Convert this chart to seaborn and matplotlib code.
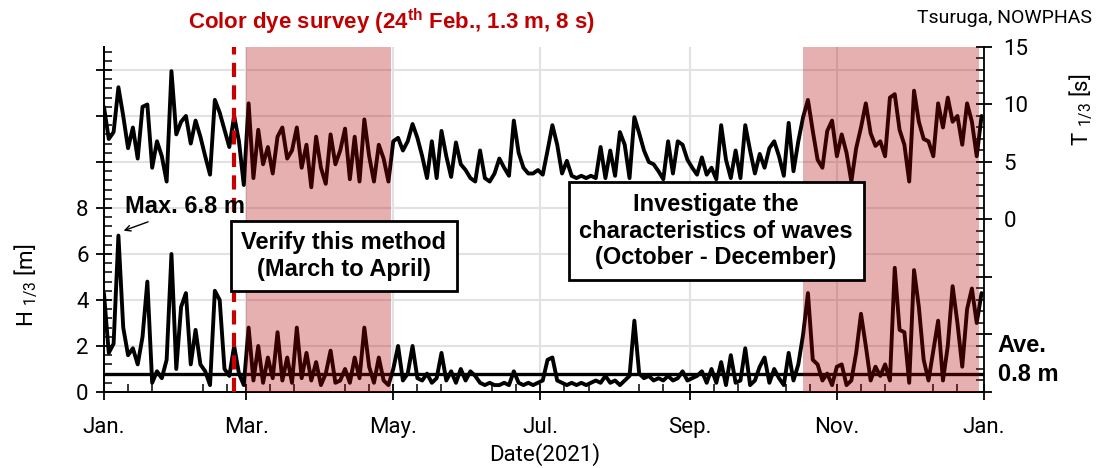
import numpy as np
import pandas as pd
import matplotlib
matplotlib.use('Agg')
import matplotlib.pyplot as plt
import matplotlib.dates as mdates
from matplotlib.ticker import AutoMinorLocator, FixedLocator
import seaborn as sns

# Significant wave height H1/3 [m], read every 2 days from 1 Jan 2021
h_vals = [
    4.3, 1.7, 2.1, 6.8, 2.8, 1.6, 1.9, 1.2, 2.4, 4.8,
    0.4, 0.9, 0.6, 1.4, 6.0, 1.0, 3.7, 4.3, 1.2, 2.7,
    1.2, 0.9, 0.3, 4.4, 4.0, 1.0, 0.7, 2.0, 0.8, 0.3,
    2.8, 0.5, 2.0, 0.4, 1.5, 0.6, 2.6, 0.5, 1.5, 0.4,
    2.8, 0.6, 1.7, 0.5, 1.3, 0.3, 0.8, 1.8, 0.4, 0.5,
    1.0, 0.4, 1.5, 0.6, 2.8, 1.1, 0.4, 1.5, 0.5, 0.3,
    1.0, 2.0, 0.5, 0.8, 2.0, 0.6, 0.5, 0.8, 0.4, 0.6,
    1.7, 0.5, 0.9, 0.4, 1.0, 0.5, 0.9, 0.7, 0.4, 0.3,
    0.4, 0.3, 0.3, 0.4, 0.3, 0.9, 0.4, 0.3, 0.4, 0.3,
    0.4, 0.5, 1.4, 1.5, 0.5, 0.4, 0.3, 0.4, 0.3, 0.4,
    0.3, 0.4, 0.5, 0.4, 0.7, 0.4, 0.5, 0.3, 0.5, 0.7,
    3.1, 0.8, 0.6, 0.7, 0.5, 0.6, 0.5, 0.7, 0.5, 0.6,
    0.9, 0.5, 0.6, 0.7, 0.9, 0.4, 1.0, 0.4, 1.3, 0.3,
    1.6, 0.4, 0.5, 1.9, 0.3, 0.5, 1.1, 1.5, 0.4, 1.0,
    0.6, 0.3, 1.7, 0.5, 1.2, 2.5, 4.3, 1.4, 1.2, 0.5,
    0.8, 0.3, 1.1, 1.2, 0.3, 0.5, 1.7, 3.4, 2.0, 0.5,
    1.1, 0.7, 1.2, 0.5, 5.4, 2.7, 2.6, 0.4, 5.3, 3.7,
    1.4, 0.5, 1.8, 3.1, 0.5, 2.0, 4.6, 3.0, 1.1, 3.6,
    4.5, 3.0, 4.3,
]

# Significant wave period T1/3 [s], same dates
t_vals = [
    9.8, 7.0, 7.6, 11.5, 9.0, 6.2, 8.0, 5.3, 9.8, 10.0,
    4.5, 6.8, 5.5, 3.3, 12.9, 7.4, 8.5, 9.0, 6.6, 8.6,
    7.2, 5.5, 3.9, 10.4, 9.3, 7.8, 6.3, 9.0, 6.8, 3.0,
    10.1, 3.6, 7.8, 4.8, 6.3, 4.0, 7.2, 8.0, 5.3, 6.0,
    8.0, 4.5, 6.5, 2.8, 7.2, 4.5, 3.1, 7.4, 4.8, 6.0,
    7.9, 3.5, 7.2, 3.3, 8.7, 5.5, 3.3, 6.5, 5.3, 3.3,
    6.8, 7.1, 6.0, 6.8, 8.3, 7.1, 5.5, 3.6, 6.8, 3.6,
    7.7, 5.5, 3.7, 6.7, 4.8, 4.3, 3.6, 3.3, 6.0, 3.6,
    3.3, 4.0, 5.3, 4.5, 3.8, 8.6, 5.8, 4.5, 4.0, 4.0,
    4.3, 3.9, 6.0, 8.2, 6.5, 4.0, 5.1, 3.8, 3.6, 3.8,
    3.6, 3.8, 3.6, 6.3, 3.6, 6.0, 3.8, 7.6, 6.5, 3.6,
    8.9, 7.5, 6.0, 5.0, 4.8, 4.2, 3.5, 6.8, 4.0, 6.8,
    6.5, 5.2, 4.5, 3.9, 5.4, 3.9, 4.5, 3.5, 8.2, 5.2,
    3.6, 6.0, 3.6, 8.2, 6.0, 4.0, 5.7, 4.5, 6.2, 6.8,
    5.5, 3.8, 8.4, 4.2, 6.8, 8.9, 10.4, 7.7, 5.2, 4.5,
    7.7, 8.6, 5.5, 7.4, 5.8, 3.3, 6.2, 8.0, 10.1, 7.5,
    6.4, 6.8, 5.5, 10.6, 10.9, 7.8, 6.5, 3.3, 11.2, 8.5,
    7.0, 6.8, 5.5, 10.1, 8.0, 10.6, 8.5, 9.0, 6.5, 10.1,
    8.5, 5.5, 9.0,
]

h_mean = 0.8
survey_date = '2021-02-24'
periods = [('2021-03-01', '2021-04-30'), ('2021-10-18', '2021-12-30')]
month_labels = ['Jan.', 'Mar.', 'May.', 'Jul.', 'Sep.', 'Nov.', 'Jan.']
month_ticks = ['2021-01-01', '2021-03-01', '2021-05-01', '2021-07-01',
               '2021-09-01', '2021-11-01', '2022-01-01']

dates = pd.date_range('2021-01-01', periods=len(h_vals), freq='2D')
df = pd.DataFrame({'date': dates, 'H': h_vals, 'T': t_vals})

sns.set_style('ticks')
plt.rcParams['font.family'] = ['Roboto', 'DejaVu Sans']
plt.rcParams['text.color'] = 'black'
plt.rcParams['axes.labelcolor'] = 'black'
plt.rcParams['xtick.color'] = 'black'
plt.rcParams['ytick.color'] = 'black'
plt.rcParams['axes.edgecolor'] = 'black'
plt.rcParams['mathtext.fontset'] = 'custom'
plt.rcParams['mathtext.rm'] = 'Roboto'
plt.rcParams['mathtext.bf'] = 'Liberation Sans:bold'

fig = plt.figure(figsize=(11, 4.68), dpi=100)
ax = fig.add_axes([0.0945, 0.1624, 0.80, 0.7372])
ax2 = ax.twinx()

# wave height on the left axis, period on the right one
sns.lineplot(data=df, x='date', y='H', ax=ax, color='black', lw=2.8, zorder=3)
sns.lineplot(data=df, x='date', y='T', ax=ax2, color='black', lw=2.8, zorder=3)
ax.axhline(h_mean, color='black', lw=2.4, zorder=4)

# survey date and study periods
ax2.axvline(pd.Timestamp(survey_date), color='#C80000', lw=3, dashes=(3.4, 2.0), zorder=6)
for start, end in periods:
    ax2.axvspan(pd.Timestamp(start), pd.Timestamp(end), color='#B40000', alpha=0.31, lw=0, zorder=5)

ax.set_xlim(pd.Timestamp('2021-01-01'), pd.Timestamp('2022-01-01'))
ax.set_ylim(0, 15)
ax2.set_ylim(-15, 15)

ax.xaxis.set_major_locator(FixedLocator(mdates.date2num(pd.to_datetime(month_ticks))))
ax.set_xticklabels(month_labels)
ax.xaxis.set_minor_locator(mdates.DayLocator(bymonthday=[11, 21]))

ax.set_yticks(np.arange(0, 15, 2))
ax.set_yticklabels(['0', '2', '4', '6', '8', '', '', ''])
ax.yaxis.set_minor_locator(AutoMinorLocator(5))
ax2.set_yticks(np.arange(-15, 16, 5))
ax2.set_yticklabels(['', '', '', '0', '5', '10', '15'])
ax2.yaxis.set_minor_locator(AutoMinorLocator(5))

ax.grid(True, which='major', color='#e2e2e2', lw=1.5)
ax.set_xlabel('')
ax.set_ylabel('')
ax2.set_ylabel('')

for a in (ax, ax2):
    a.spines['top'].set_visible(False)
    for s in a.spines.values():
        s.set_linewidth(1.3)
    a.tick_params(which='major', direction='inout', length=12, width=1.3, labelsize=16, colors='black')
    a.tick_params(which='minor', direction='in', length=6, width=1.1)
ax.spines['right'].set_visible(False)
ax.tick_params(axis='x', pad=12)
ax.tick_params(axis='y', pad=5)
ax2.tick_params(axis='y', pad=8)

# texts
fig.text(0.356, 0.953, r'Color dye survey (24$^{\mathbf{th}}$ Feb., 1.3 m, 8 s)', color='#C00000',
         fontsize=16, fontweight='bold', family='Liberation Sans', ha='center', va='center')
fig.text(0.993, 0.962, 'Tsuruga, NOWPHAS', fontsize=14, ha='right', va='center')
fig.text(0.495, 0.028, 'Date(2021)', fontsize=16, ha='center', va='center')
fig.text(0.024, 0.39, r'H $_{\mathrm{1/3}}$ [m]', fontsize=16, rotation=90, ha='center', va='center')
fig.text(0.983, 0.765, r'T $_{\mathrm{1/3}}$ [s]', fontsize=16, rotation=90, ha='center', va='center')

bold = dict(family='Liberation Sans', fontweight='bold', fontsize=17)
fig.text(0.1136, 0.558, 'Max. 6.8 m', ha='left', va='center', **bold)
ax.annotate('', xy=(0.110, 0.505), xytext=(0.137, 0.528), xycoords='figure fraction',
            textcoords='figure fraction', arrowprops=dict(arrowstyle='->', color='black', lw=1))
fig.text(0.907, 0.231, 'Ave.\n0.8 m', ha='left', va='center', linespacing=1.35, **bold)

box = dict(boxstyle='square,pad=0.45', facecolor='white', edgecolor='black', lw=2)
fig.text(0.3127, 0.453, 'Verify this method\n(March to April)', ha='center', va='center',
         linespacing=1.2, bbox=box, zorder=10, **bold)
fig.text(0.651, 0.506, 'Investigate the\ncharacteristics of waves\n(October - December)',
         ha='center', va='center', linespacing=1.2, bbox=box, zorder=10, **bold)

plt.savefig('out.png', dpi=100)
